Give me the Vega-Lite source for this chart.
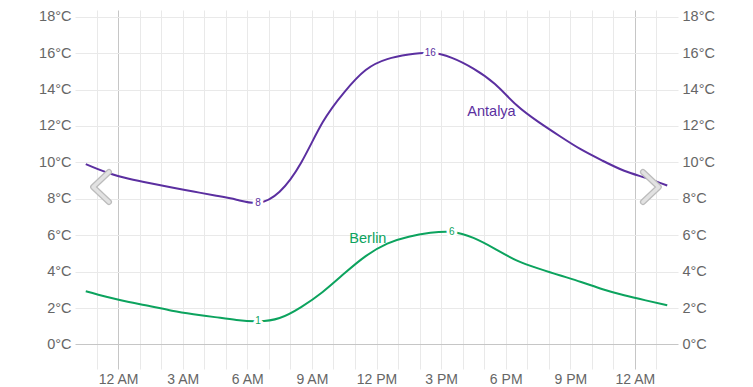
{
  "$schema": "https://vega.github.io/schema/vega-lite/v6.json",
  "width": 603,
  "height": 359,
  "autosize": "none",
  "padding": {"left": 75, "top": 10, "right": 75, "bottom": 18},
  "background": "white",
  "config": {"view": {"stroke": null}, "font": "Liberation Sans"},
  "datasets": {
    "temps": [
      {"city": "Antalya", "hour": -1.5, "temp": 9.9},
      {"city": "Antalya", "hour": -0.5, "temp": 9.43},
      {"city": "Antalya", "hour": 0.5, "temp": 9.1},
      {"city": "Antalya", "hour": 1.5, "temp": 8.85},
      {"city": "Antalya", "hour": 2.5, "temp": 8.62},
      {"city": "Antalya", "hour": 3.5, "temp": 8.4},
      {"city": "Antalya", "hour": 4.5, "temp": 8.18},
      {"city": "Antalya", "hour": 5.5, "temp": 7.95},
      {"city": "Antalya", "hour": 6.5, "temp": 7.78},
      {"city": "Antalya", "hour": 7.5, "temp": 8.39},
      {"city": "Antalya", "hour": 8.5, "temp": 9.98},
      {"city": "Antalya", "hour": 9.5, "temp": 12.2},
      {"city": "Antalya", "hour": 10.5, "temp": 13.85},
      {"city": "Antalya", "hour": 11.5, "temp": 15.07},
      {"city": "Antalya", "hour": 12.5, "temp": 15.67},
      {"city": "Antalya", "hour": 13.5, "temp": 15.92},
      {"city": "Antalya", "hour": 14.5, "temp": 16.02},
      {"city": "Antalya", "hour": 15.5, "temp": 15.74},
      {"city": "Antalya", "hour": 16.5, "temp": 15.15},
      {"city": "Antalya", "hour": 17.5, "temp": 14.3},
      {"city": "Antalya", "hour": 18.5, "temp": 13.15},
      {"city": "Antalya", "hour": 19.5, "temp": 12.24},
      {"city": "Antalya", "hour": 20.5, "temp": 11.45},
      {"city": "Antalya", "hour": 21.5, "temp": 10.71},
      {"city": "Antalya", "hour": 22.5, "temp": 10.09},
      {"city": "Antalya", "hour": 23.5, "temp": 9.54},
      {"city": "Antalya", "hour": 24.5, "temp": 9.15},
      {"city": "Antalya", "hour": 25.5, "temp": 8.73},
      {"city": "Berlin", "hour": -1.5, "temp": 2.92},
      {"city": "Berlin", "hour": -0.5, "temp": 2.6},
      {"city": "Berlin", "hour": 0.5, "temp": 2.33},
      {"city": "Berlin", "hour": 1.5, "temp": 2.1},
      {"city": "Berlin", "hour": 2.5, "temp": 1.85},
      {"city": "Berlin", "hour": 3.5, "temp": 1.66},
      {"city": "Berlin", "hour": 4.5, "temp": 1.5},
      {"city": "Berlin", "hour": 5.5, "temp": 1.34},
      {"city": "Berlin", "hour": 6.5, "temp": 1.27},
      {"city": "Berlin", "hour": 7.5, "temp": 1.45},
      {"city": "Berlin", "hour": 8.5, "temp": 2.05},
      {"city": "Berlin", "hour": 9.5, "temp": 2.88},
      {"city": "Berlin", "hour": 10.5, "temp": 3.89},
      {"city": "Berlin", "hour": 11.5, "temp": 4.85},
      {"city": "Berlin", "hour": 12.5, "temp": 5.54},
      {"city": "Berlin", "hour": 13.5, "temp": 5.92},
      {"city": "Berlin", "hour": 14.5, "temp": 6.13},
      {"city": "Berlin", "hour": 15.5, "temp": 6.18},
      {"city": "Berlin", "hour": 16.5, "temp": 5.85},
      {"city": "Berlin", "hour": 17.5, "temp": 5.25},
      {"city": "Berlin", "hour": 18.5, "temp": 4.62},
      {"city": "Berlin", "hour": 19.5, "temp": 4.18},
      {"city": "Berlin", "hour": 20.5, "temp": 3.8},
      {"city": "Berlin", "hour": 21.5, "temp": 3.43},
      {"city": "Berlin", "hour": 22.5, "temp": 3.03},
      {"city": "Berlin", "hour": 23.5, "temp": 2.7},
      {"city": "Berlin", "hour": 24.5, "temp": 2.42},
      {"city": "Berlin", "hour": 25.5, "temp": 2.15}
    ],
    "names": [
      {"city": "Antalya", "hour": 17.34, "temp": 12.77},
      {"city": "Berlin", "hour": 11.6, "temp": 5.79}
    ]
  },
  "resolve": {"scale": {"y": "independent"}},
  "layer": [
    {
      "encoding": {
        "x": {
          "field": "hour",
          "type": "quantitative",
          "scale": {"domain": [-2, 26], "nice": false, "zero": false},
          "axis": {
            "title": null,
            "values": [-1, 0, 1, 2, 3, 4, 5, 6, 7, 8, 9, 10, 11, 12, 13, 14, 15, 16, 17, 18, 19, 20, 21, 22, 23, 24, 25],
            "labelExpr": "datum.value % 3 != 0 ? '' : ((datum.value % 24) % 12 == 0 ? '12' : '' + ((datum.value % 24) % 12)) + ((datum.value % 24) < 12 ? ' AM' : ' PM')",
            "grid": true,
            "gridColor": {"condition": {"test": "datum.value % 24 == 0", "value": "#c6c6c6"}, "value": "#e9e9e9"},
            "gridWidth": 1,
            "ticks": false,
            "domain": false,
            "labelFontSize": 14,
            "labelColor": "#666666",
            "labelPadding": 3,
            "labelFlush": false,
            "labelOverlap": false
          }
        },
        "y": {
          "field": "temp",
          "type": "quantitative",
          "scale": {"domain": [-1.35, 18.37], "nice": false, "zero": false},
          "axis": {
            "title": null,
            "values": [0, 2, 4, 6, 8, 10, 12, 14, 16, 18],
            "labelExpr": "datum.value + '°C'",
            "grid": true,
            "gridColor": {"condition": {"test": "datum.value == 0", "value": "#c6c6c6"}, "value": "#e9e9e9"},
            "ticks": false,
            "domain": false,
            "labelFontSize": 14.5,
            "labelColor": "#666666",
            "labelPadding": 4
          }
        },
        "color": {
          "field": "city",
          "type": "nominal",
          "scale": {"domain": ["Antalya", "Berlin"], "range": ["#5b2fa0", "#0ca35e"]},
          "legend": null
        }
      },
      "layer": [
        {
          "data": {"name": "temps"},
          "mark": {"type": "line", "interpolate": "natural", "strokeWidth": 2}
        },
        {
          "data": {"name": "temps"},
          "transform": [
            {"joinaggregate": [{"op": "min", "field": "temp", "as": "mn"}, {"op": "max", "field": "temp", "as": "mx"}], "groupby": ["city"]},
            {"filter": "datum.temp == datum.mn || datum.temp == datum.mx"}
          ],
          "mark": {"type": "text", "fontSize": 10, "stroke": "white", "strokeWidth": 6, "strokeJoin": "round", "fill": "white", "baseline": "middle", "align": "center"},
          "encoding": {"text": {"field": "temp", "format": ".0f"}, "color": {"value": "white"}}
        },
        {
          "data": {"name": "temps"},
          "transform": [
            {"joinaggregate": [{"op": "min", "field": "temp", "as": "mn"}, {"op": "max", "field": "temp", "as": "mx"}], "groupby": ["city"]},
            {"filter": "datum.temp == datum.mn || datum.temp == datum.mx"}
          ],
          "mark": {"type": "text", "fontSize": 10, "baseline": "middle", "align": "center"},
          "encoding": {"text": {"field": "temp", "format": ".0f"}}
        },
        {
          "data": {"name": "names"},
          "mark": {"type": "text", "fontSize": 14.5, "baseline": "middle", "align": "center"},
          "encoding": {"text": {"field": "city"}}
        }
      ]
    },
    {
      "data": {"name": "temps"},
      "mark": {"type": "line", "opacity": 0},
      "encoding": {
        "x": {
          "field": "hour",
          "type": "quantitative",
          "scale": {"domain": [-2, 26], "nice": false, "zero": false},
          "axis": {
            "title": null,
            "values": [-1, 0, 1, 2, 3, 4, 5, 6, 7, 8, 9, 10, 11, 12, 13, 14, 15, 16, 17, 18, 19, 20, 21, 22, 23, 24, 25],
            "labelExpr": "datum.value % 3 != 0 ? '' : ((datum.value % 24) % 12 == 0 ? '12' : '' + ((datum.value % 24) % 12)) + ((datum.value % 24) < 12 ? ' AM' : ' PM')",
            "grid": true,
            "gridColor": {"condition": {"test": "datum.value % 24 == 0", "value": "#c6c6c6"}, "value": "#e9e9e9"},
            "gridWidth": 1,
            "ticks": false,
            "domain": false,
            "labelFontSize": 14,
            "labelColor": "#666666",
            "labelPadding": 3,
            "labelFlush": false,
            "labelOverlap": false
          }
        },
        "y": {
          "field": "temp",
          "type": "quantitative",
          "scale": {"domain": [-1.35, 18.37], "nice": false, "zero": false},
          "axis": {
            "orient": "right",
            "title": null,
            "values": [0, 2, 4, 6, 8, 10, 12, 14, 16, 18],
            "labelExpr": "datum.value + '°C'",
            "grid": false,
            "ticks": false,
            "domain": false,
            "labelFontSize": 14.5,
            "labelColor": "#666666",
            "labelPadding": 4
          }
        },
        "detail": {"field": "city"}
      }
    },
    {
      "data": {"values": [{"side": "left"}, {"side": "right"}]},
      "encoding": {
        "y": {"datum": 8.65, "type": "quantitative", "scale": {"domain": [-1.35, 18.37], "nice": false, "zero": false}, "axis": null}
      },
      "layer": [
        {
          "transform": [{"filter": "datum.side == 'left'"}],
          "encoding": {
            "x": {
              "datum": -0.79,
              "type": "quantitative",
              "axis": {
                "title": null,
                "values": [-1, 0, 1, 2, 3, 4, 5, 6, 7, 8, 9, 10, 11, 12, 13, 14, 15, 16, 17, 18, 19, 20, 21, 22, 23, 24, 25],
                "labelExpr": "datum.value % 3 != 0 ? '' : ((datum.value % 24) % 12 == 0 ? '12' : '' + ((datum.value % 24) % 12)) + ((datum.value % 24) < 12 ? ' AM' : ' PM')",
                "grid": true,
                "gridColor": {"condition": {"test": "datum.value % 24 == 0", "value": "#c6c6c6"}, "value": "#e9e9e9"},
                "gridWidth": 1,
                "ticks": false,
                "domain": false,
                "labelFontSize": 14,
                "labelColor": "#666666",
                "labelPadding": 3,
                "labelFlush": false,
                "labelOverlap": false
              }
            }
          },
          "layer": [
            {"mark": {"type": "point", "shape": "M0.53,-1L-0.53,0L0.53,1", "size": 900, "filled": false, "color": "#bcbcbc", "strokeWidth": 6, "strokeCap": "round", "strokeJoin": "round", "opacity": 1}},
            {"mark": {"type": "point", "shape": "M0.53,-1L-0.53,0L0.53,1", "size": 900, "filled": false, "color": "#e2e2e2", "strokeWidth": 3.5, "strokeCap": "round", "strokeJoin": "round", "opacity": 1}}
          ]
        },
        {
          "transform": [{"filter": "datum.side == 'right'"}],
          "encoding": {
            "x": {
              "datum": 24.74,
              "type": "quantitative",
              "axis": {
                "title": null,
                "values": [-1, 0, 1, 2, 3, 4, 5, 6, 7, 8, 9, 10, 11, 12, 13, 14, 15, 16, 17, 18, 19, 20, 21, 22, 23, 24, 25],
                "labelExpr": "datum.value % 3 != 0 ? '' : ((datum.value % 24) % 12 == 0 ? '12' : '' + ((datum.value % 24) % 12)) + ((datum.value % 24) < 12 ? ' AM' : ' PM')",
                "grid": true,
                "gridColor": {"condition": {"test": "datum.value % 24 == 0", "value": "#c6c6c6"}, "value": "#e9e9e9"},
                "gridWidth": 1,
                "ticks": false,
                "domain": false,
                "labelFontSize": 14,
                "labelColor": "#666666",
                "labelPadding": 3,
                "labelFlush": false,
                "labelOverlap": false
              }
            }
          },
          "layer": [
            {"mark": {"type": "point", "shape": "M-0.53,-1L0.53,0L-0.53,1", "size": 900, "filled": false, "color": "#bcbcbc", "strokeWidth": 6, "strokeCap": "round", "strokeJoin": "round", "opacity": 1}},
            {"mark": {"type": "point", "shape": "M-0.53,-1L0.53,0L-0.53,1", "size": 900, "filled": false, "color": "#e2e2e2", "strokeWidth": 3.5, "strokeCap": "round", "strokeJoin": "round", "opacity": 1}}
          ]
        }
      ]
    }
  ]
}
